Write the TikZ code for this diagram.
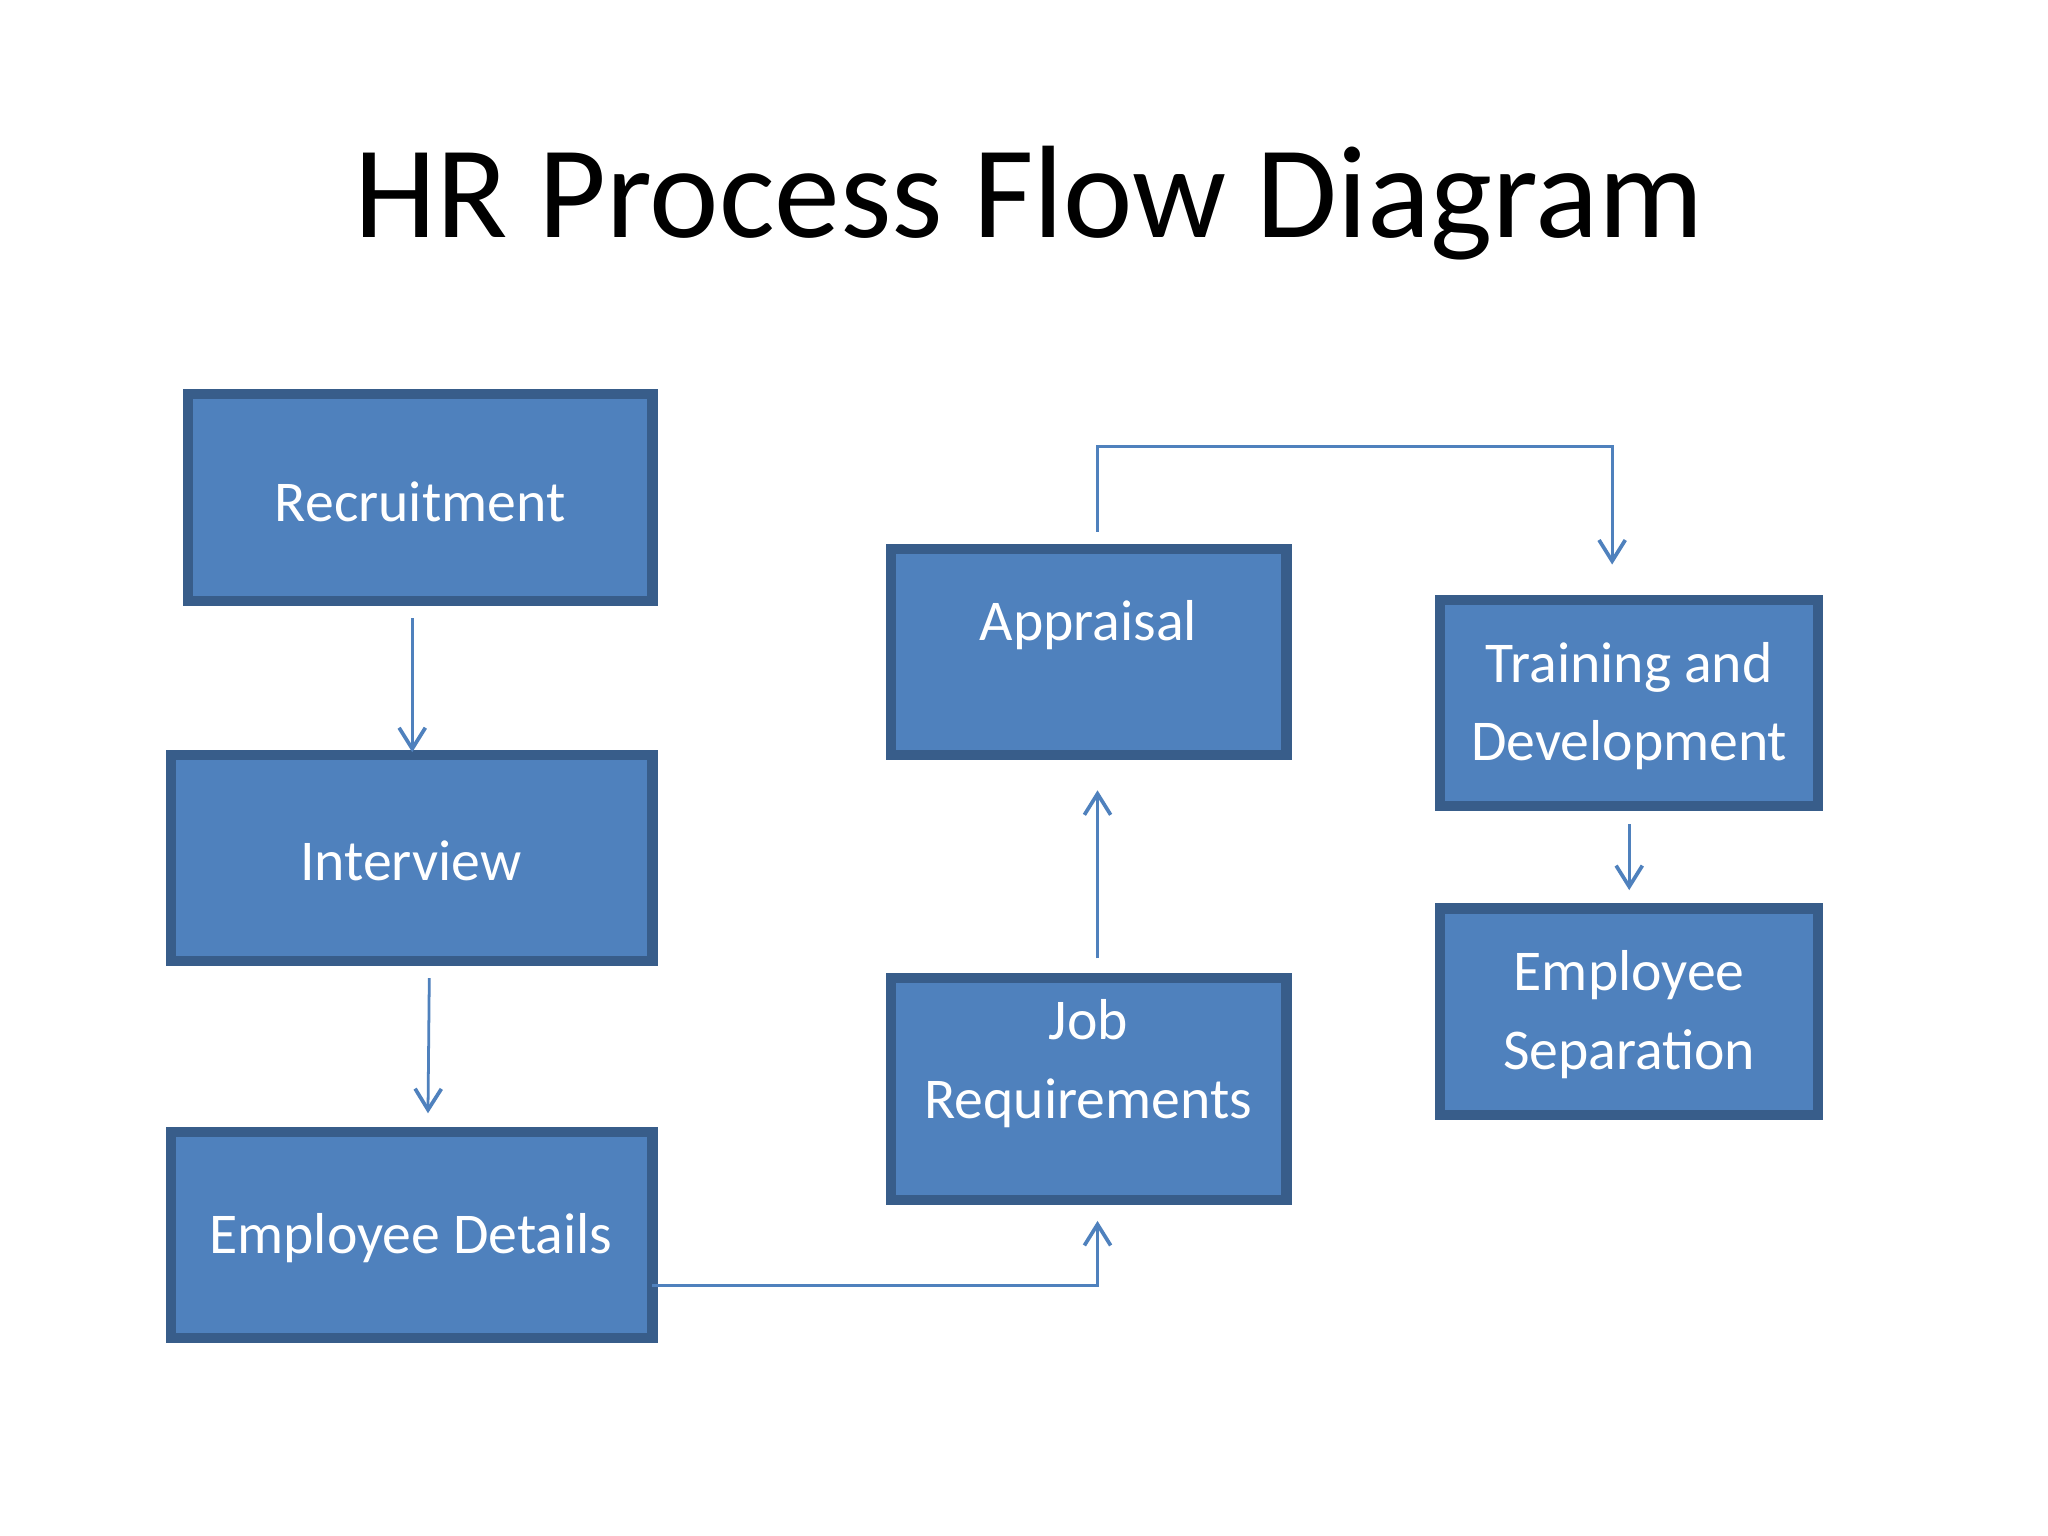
\documentclass[tikz,border=0pt]{standalone}
\usepackage{fontspec}
\setmainfont{Carlito}
\usetikzlibrary{arrows.meta}
\definecolor{boxfill}{HTML}{4F81BD}
\definecolor{boxline}{HTML}{385D8A}
\begin{document}
\begin{tikzpicture}[x=0.01cm,y=-0.01cm,
  hrbox/.style={draw=boxline,line width=2.2pt,fill=boxfill,text=white,font=\fontsize{12.5pt}{17pt}\selectfont,align=center,inner sep=0pt},
  conn/.style={draw=boxfill,line width=0.6pt,-{Straight Barb[length=0.16cm,width=0.2cm,line width=0.8pt]}}]
\useasboundingbox (0,0) rectangle (1560,1170);
\fill[white] (0,0) rectangle (1560,1170);
\node[font=\fontsize{28.5pt}{34pt}\selectfont] (title) at (784,155) {HR Process Flow Diagram};
\draw[hrbox] (143,300) rectangle (497,458); \node[text=white,font=\fontsize{12.5pt}{17pt}\selectfont] (rec) at (320,382) {Recruitment};
\draw[hrbox] (130,575) rectangle (497,732); \node[text=white,font=\fontsize{12.5pt}{17pt}\selectfont] (int) at (313,656) {Interview};
\draw[hrbox] (130,862) rectangle (497,1019); \node[text=white,font=\fontsize{12.5pt}{17pt}\selectfont] (ed) at (313,943) {Employee Details};
\draw[hrbox] (679,418) rectangle (980,575); \node[text=white,font=\fontsize{12.5pt}{17pt}\selectfont] (app) at (829,476) {Appraisal};
\draw[hrbox] (679,745) rectangle (980,914); \node[text=white,align=center,font=\fontsize{12.5pt}{17pt}\selectfont] (jr) at (829,810) {Job\\Requirements};
\draw[hrbox] (1097,457) rectangle (1385,614); \node[text=white,align=center,font=\fontsize{12.5pt}{17pt}\selectfont] (td) at (1241,538) {Training and\\Development};
\draw[hrbox] (1097,692) rectangle (1385,849); \node[text=white,align=center,font=\fontsize{12.5pt}{17pt}\selectfont] (es) at (1241,773) {Employee\\Separation};
\coordinate (a1) at (314,471); \coordinate (a2) at (314,573);
\coordinate (b1) at (327,745); \coordinate (b2) at (326,848);
\coordinate (c1) at (497,979); \coordinate (c2) at (836,930);
\coordinate (d1) at (836,730); \coordinate (d2) at (836,602);
\coordinate (e1) at (836,405); \coordinate (e2) at (1228,430);
\coordinate (f1) at (1241,628); \coordinate (f2) at (1241,678);
\draw[conn] (a1) -- (a2);
\draw[conn] (b1) -- (b2);
\draw[conn] (c1) -| (c2);
\draw[conn] (d1) -- (d2);
\draw[conn] (e1) |- (1228,340) -- (e2);
\draw[conn] (f1) -- (f2);
\end{tikzpicture}
\end{document}
